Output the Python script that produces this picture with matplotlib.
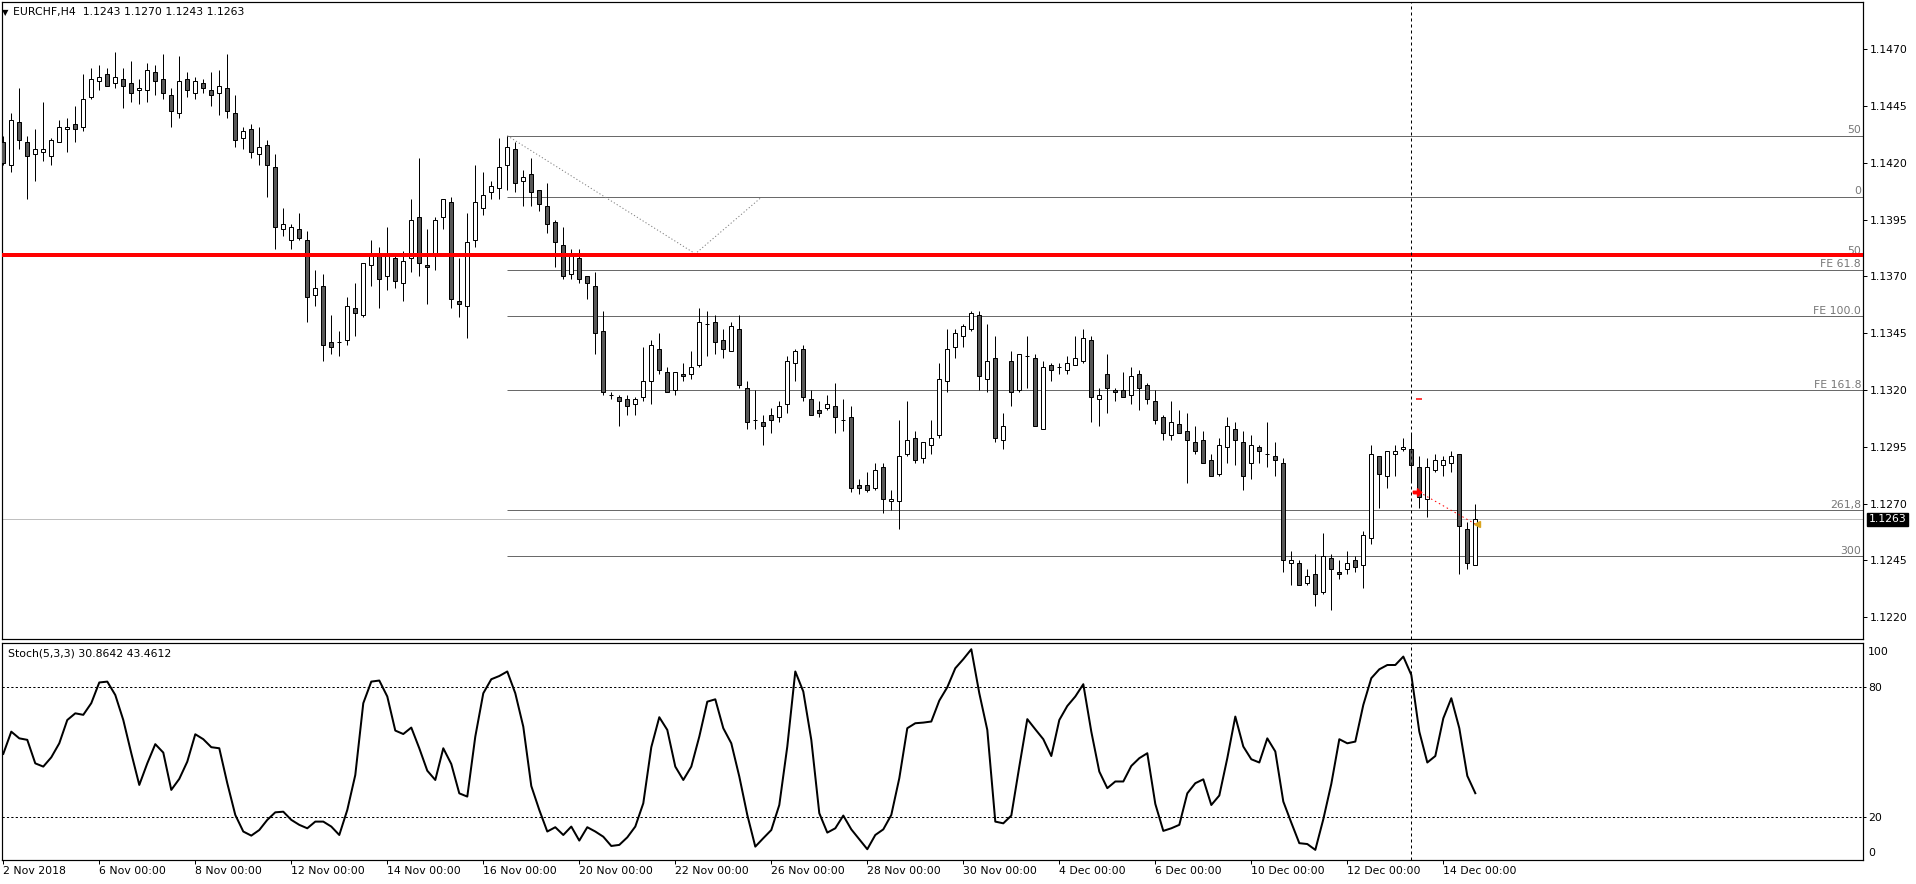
import matplotlib
matplotlib.use("Agg")
import matplotlib.pyplot as plt
import numpy as np
from matplotlib.path import Path
from matplotlib.transforms import blended_transform_factory

W, H = 1916, 884

symbol = "EURCHF,H4"
tick_labels = ["2 Nov 2018", "6 Nov 00:00", "8 Nov 00:00", "12 Nov 00:00", "14 Nov 00:00",
               "16 Nov 00:00", "20 Nov 00:00", "22 Nov 00:00", "26 Nov 00:00", "28 Nov 00:00",
               "30 Nov 00:00", "4 Dec 00:00", "6 Dec 00:00", "10 Dec 00:00", "12 Dec 00:00",
               "14 Dec 00:00"]
bars_per_label = 12

# H4 candles, 2 Nov 00:00 .. 14 Dec 16:00
opens = [
    1.1429, 1.1419, 1.1438, 1.1429, 1.1424, 1.1425, 1.1423, 1.1429, 1.1435, 1.1437,
    1.1436, 1.1449, 1.1456, 1.1459, 1.1455, 1.1457, 1.1455, 1.1452, 1.1452, 1.1460,
    1.1457, 1.1450, 1.1442, 1.1457, 1.1451, 1.1455, 1.1452, 1.1451, 1.1453, 1.1442,
    1.1431, 1.1435, 1.1424, 1.1428, 1.1418, 1.1391, 1.1386, 1.1391, 1.1386, 1.1362,
    1.1366, 1.1341, 1.1341, 1.1342, 1.1356, 1.1353, 1.1375, 1.1379, 1.1370, 1.1378,
    1.1367, 1.1378, 1.1396, 1.1375, 1.1379, 1.1396, 1.1403, 1.1359, 1.1357, 1.1386,
    1.1400, 1.1407, 1.1409, 1.1419, 1.1426, 1.1412, 1.1415, 1.1408, 1.1401, 1.1394,
    1.1384, 1.1371, 1.1378, 1.1370, 1.1366, 1.1346, 1.1318, 1.1317, 1.1316, 1.1314,
    1.1317, 1.1324, 1.1338, 1.1328, 1.1320, 1.1327, 1.1327, 1.1331, 1.1349, 1.1350,
    1.1342, 1.1337, 1.1347, 1.1321, 1.1307, 1.1306, 1.1309, 1.1308, 1.1314, 1.1332,
    1.1338, 1.1316, 1.1311, 1.1312, 1.1313, 1.1307, 1.1308, 1.1278, 1.1278, 1.1277,
    1.1286, 1.1271, 1.1271, 1.1292, 1.1299, 1.1290, 1.1296, 1.1300, 1.1324, 1.1339,
    1.1344, 1.1347, 1.1353, 1.1325, 1.1334, 1.1298, 1.1333, 1.1320, 1.1335, 1.1334,
    1.1303, 1.1331, 1.1330, 1.1329, 1.1331, 1.1333, 1.1342, 1.1316, 1.1327, 1.1320,
    1.1320, 1.1318, 1.1327, 1.1322, 1.1315, 1.1308, 1.1300, 1.1305, 1.1302, 1.1297,
    1.1298, 1.1289, 1.1283, 1.1295, 1.1303, 1.1297, 1.1288, 1.1295, 1.1292, 1.1291,
    1.1288, 1.1244, 1.1244, 1.1235, 1.1239, 1.1231, 1.1246, 1.1240, 1.1241, 1.1245,
    1.1243, 1.1255, 1.1291, 1.1282, 1.1292, 1.1294, 1.1294, 1.1286, 1.1272, 1.1285,
    1.1287, 1.1288, 1.1292, 1.1259, 1.1243,
]
highs = [
    1.1432, 1.1442, 1.1453, 1.1432, 1.1435, 1.1447, 1.1431, 1.1439, 1.1440, 1.1445,
    1.1459, 1.1462, 1.1463, 1.1462, 1.1469, 1.1462, 1.1465, 1.1457, 1.1464, 1.1463,
    1.1468, 1.1453, 1.1467, 1.1460, 1.1458, 1.1457, 1.1460, 1.1461, 1.1468, 1.1450,
    1.1436, 1.1437, 1.1436, 1.1430, 1.1424, 1.1400, 1.1393, 1.1398, 1.1390, 1.1373,
    1.1371, 1.1353, 1.1346, 1.1361, 1.1367, 1.1376, 1.1386, 1.1383, 1.1392, 1.1380,
    1.1381, 1.1404, 1.1422, 1.1391, 1.1396, 1.1404, 1.1405, 1.1378, 1.1398, 1.1419,
    1.1416, 1.1412, 1.1431, 1.1432, 1.1429, 1.1417, 1.1422, 1.1408, 1.1411, 1.1395,
    1.1392, 1.1382, 1.1382, 1.1370, 1.1372, 1.1355, 1.1319, 1.1318, 1.1318, 1.1317,
    1.1339, 1.1342, 1.1345, 1.1330, 1.1328, 1.1332, 1.1337, 1.1356, 1.1355, 1.1353,
    1.1347, 1.1350, 1.1353, 1.1324, 1.1320, 1.1309, 1.1312, 1.1315, 1.1335, 1.1338,
    1.1340, 1.1320, 1.1315, 1.1318, 1.1323, 1.1316, 1.1313, 1.1281, 1.1284, 1.1288,
    1.1288, 1.1276, 1.1307, 1.1315, 1.1302, 1.1297, 1.1307, 1.1332, 1.1347, 1.1347,
    1.1349, 1.1355, 1.1355, 1.1349, 1.1344, 1.1310, 1.1337, 1.1336, 1.1344, 1.1336,
    1.1333, 1.1332, 1.1332, 1.1335, 1.1344, 1.1347, 1.1344, 1.1321, 1.1336, 1.1321,
    1.1328, 1.1330, 1.1329, 1.1323, 1.1320, 1.1309, 1.1315, 1.1311, 1.1310, 1.1304,
    1.1302, 1.1292, 1.1299, 1.1308, 1.1306, 1.1302, 1.1300, 1.1296, 1.1306, 1.1297,
    1.1290, 1.1249, 1.1245, 1.1241, 1.1248, 1.1257, 1.1248, 1.1245, 1.1249, 1.1247,
    1.1258, 1.1296, 1.1291, 1.1293, 1.1296, 1.1299, 1.1301, 1.1291, 1.1290, 1.1292,
    1.1291, 1.1293, 1.1292, 1.1262, 1.1270,
]
lows = [
    1.1419, 1.1416, 1.1426, 1.1404, 1.1412, 1.1421, 1.1419, 1.1429, 1.1425, 1.1429,
    1.1434, 1.1448, 1.1452, 1.1454, 1.1453, 1.1444, 1.1447, 1.1446, 1.1447, 1.1450,
    1.1448, 1.1436, 1.1440, 1.1449, 1.1448, 1.1451, 1.1445, 1.1441, 1.1440, 1.1427,
    1.1426, 1.1422, 1.1419, 1.1405, 1.1382, 1.1388, 1.1382, 1.1386, 1.1350, 1.1357,
    1.1333, 1.1336, 1.1335, 1.1340, 1.1344, 1.1352, 1.1366, 1.1356, 1.1364, 1.1365,
    1.1359, 1.1372, 1.1370, 1.1358, 1.1373, 1.1391, 1.1356, 1.1352, 1.1343, 1.1383,
    1.1397, 1.1404, 1.1404, 1.1408, 1.1407, 1.1401, 1.1401, 1.1399, 1.1389, 1.1374,
    1.1369, 1.1369, 1.1367, 1.1360, 1.1336, 1.1318, 1.1316, 1.1304, 1.1309, 1.1309,
    1.1315, 1.1314, 1.1327, 1.1319, 1.1318, 1.1324, 1.1325, 1.1330, 1.1335, 1.1336,
    1.1334, 1.1337, 1.1321, 1.1303, 1.1303, 1.1296, 1.1301, 1.1306, 1.1310, 1.1324,
    1.1315, 1.1309, 1.1308, 1.1311, 1.1301, 1.1302, 1.1275, 1.1274, 1.1275, 1.1276,
    1.1266, 1.1267, 1.1259, 1.1291, 1.1288, 1.1288, 1.1292, 1.1299, 1.1319, 1.1334,
    1.1339, 1.1346, 1.1320, 1.1319, 1.1297, 1.1294, 1.1313, 1.1319, 1.1321, 1.1304,
    1.1303, 1.1324, 1.1327, 1.1327, 1.1331, 1.1332, 1.1306, 1.1304, 1.1310, 1.1315,
    1.1317, 1.1314, 1.1311, 1.1314, 1.1305, 1.1298, 1.1298, 1.1301, 1.1279, 1.1292,
    1.1288, 1.1282, 1.1282, 1.1288, 1.1287, 1.1276, 1.1281, 1.1288, 1.1286, 1.1282,
    1.1240, 1.1234, 1.1234, 1.1234, 1.1225, 1.1230, 1.1223, 1.1237, 1.1239, 1.1240,
    1.1233, 1.1252, 1.1268, 1.1277, 1.1282, 1.1293, 1.1280, 1.1268, 1.1264, 1.1284,
    1.1282, 1.1284, 1.1239, 1.1241, 1.1243,
]
closes = [
    1.1420, 1.1439, 1.1430, 1.1423, 1.1426, 1.1426, 1.1430, 1.1436, 1.1436, 1.1435,
    1.1448, 1.1457, 1.1458, 1.1454, 1.1458, 1.1454, 1.1451, 1.1453, 1.1461, 1.1456,
    1.1451, 1.1443, 1.1456, 1.1452, 1.1456, 1.1453, 1.1450, 1.1454, 1.1443, 1.1430,
    1.1434, 1.1425, 1.1427, 1.1419, 1.1392, 1.1393, 1.1392, 1.1387, 1.1361, 1.1365,
    1.1340, 1.1339, 1.1341, 1.1357, 1.1354, 1.1376, 1.1380, 1.1369, 1.1379, 1.1368,
    1.1377, 1.1395, 1.1376, 1.1374, 1.1395, 1.1404, 1.1360, 1.1358, 1.1385, 1.1403,
    1.1406, 1.1410, 1.1418, 1.1427, 1.1411, 1.1414, 1.1407, 1.1402, 1.1393, 1.1385,
    1.1370, 1.1379, 1.1369, 1.1367, 1.1345, 1.1319, 1.1318, 1.1315, 1.1313, 1.1316,
    1.1324, 1.1340, 1.1329, 1.1319, 1.1328, 1.1326, 1.1330, 1.1350, 1.1349, 1.1341,
    1.1338, 1.1348, 1.1322, 1.1306, 1.1307, 1.1304, 1.1307, 1.1313, 1.1333, 1.1337,
    1.1317, 1.1309, 1.1310, 1.1314, 1.1308, 1.1307, 1.1277, 1.1277, 1.1276, 1.1285,
    1.1272, 1.1272, 1.1291, 1.1298, 1.1289, 1.1297, 1.1299, 1.1325, 1.1338, 1.1345,
    1.1348, 1.1354, 1.1326, 1.1333, 1.1299, 1.1304, 1.1319, 1.1336, 1.1335, 1.1304,
    1.1330, 1.1329, 1.1330, 1.1332, 1.1334, 1.1343, 1.1317, 1.1318, 1.1321, 1.1319,
    1.1317, 1.1326, 1.1321, 1.1316, 1.1307, 1.1301, 1.1306, 1.1301, 1.1298, 1.1293,
    1.1288, 1.1282, 1.1296, 1.1304, 1.1298, 1.1282, 1.1296, 1.1293, 1.1292, 1.1289,
    1.1245, 1.1245, 1.1234, 1.1238, 1.1230, 1.1247, 1.1241, 1.1239, 1.1244, 1.1242,
    1.1256, 1.1292, 1.1283, 1.1293, 1.1293, 1.1295, 1.1287, 1.1273, 1.1286, 1.1289,
    1.1289, 1.1291, 1.1260, 1.1244, 1.1263,
]

# Stochastic(5,3,3) main line
stoch_k = [
    49.1, 59.4, 56.3, 55.6, 44.7, 43.2, 47.5, 54.0, 64.8, 67.9,
    67.2, 72.6, 82.2, 82.6, 76.4, 64.8, 49.4, 34.7, 44.7, 53.6,
    49.7, 32.4, 37.5, 45.5, 58.2, 55.9, 52.2, 51.7, 35.5, 20.8,
    13.1, 11.2, 13.8, 18.5, 22.0, 22.3, 18.5, 16.2, 14.6, 17.7,
    17.7, 15.4, 11.5, 23.1, 39.3, 72.6, 82.6, 83.1, 75.7, 59.9,
    58.3, 61.3, 51.7, 41.3, 37.0, 51.7, 44.4, 30.8, 29.3, 57.1,
    77.2, 83.7, 85.2, 87.3, 77.2, 61.7, 34.2, 23.1, 13.1, 15.1,
    11.5, 15.4, 8.9, 15.1, 13.1, 10.7, 6.4, 6.9, 10.4, 15.4,
    26.2, 52.2, 66.1, 60.2, 43.2, 37.0, 43.2, 57.1, 73.3, 74.4,
    61.0, 54.0, 38.6, 20.8, 6.1, 10.0, 13.8, 25.4, 52.5, 87.3,
    78.0, 55.6, 21.6, 12.6, 14.6, 20.5, 14.1, 9.5, 4.9, 11.5,
    14.1, 20.8, 37.8, 61.0, 63.3, 63.6, 64.1, 73.8, 80.0, 88.8,
    93.0, 97.6, 77.2, 60.2, 17.7, 16.9, 20.5, 43.2, 65.2, 60.5,
    55.9, 48.1, 64.8, 71.3, 75.7, 81.4, 59.4, 40.9, 33.2, 36.3,
    36.3, 43.5, 47.1, 49.4, 25.9, 13.4, 14.6, 16.2, 30.8, 35.5,
    37.3, 25.4, 29.8, 47.1, 66.4, 52.5, 46.6, 45.1, 56.3, 50.2,
    27.0, 17.2, 7.7, 7.3, 4.6, 18.8, 35.2, 55.9, 54.0, 54.8,
    71.8, 84.2, 88.3, 90.3, 90.3, 94.2, 85.7, 59.4, 45.1, 48.1,
    65.6, 74.9, 61.0, 38.9, 30.8642,
]
stoch_signal_last = 43.4612
stoch_levels = [20, 80]

# horizontal line objects
support_level = 1.13795
fib_start_bar = 63
fib_levels = [1.1432, 1.1405, 1.1379, 1.1373, 1.13525, 1.1320, 1.12671, 1.12468]
fib_labels = ["50", "0", "50", "FE 61.8", "FE 100.0", "FE 161.8", "261,8", "300"]
fe_bars = [63, 86.5, 94.8]
fe_prices = [1.1432, 1.1380, 1.1405]

# vertical line and trade marks
vline_bar = 176
entry_bar, entry_price = 177, 1.1275
exit_bar, exit_price = 184, 1.1261
target_price = 1.1316

BEAR = "#575757"
GREY = "#6a6a6a"
FS = 7.8


def pxl(v):
    # pixels -> points at dpi 100
    return v * 0.72


def main():
    plt.rcParams["font.family"] = ["DejaVu Sans"]
    fig = plt.figure(figsize=(W / 100, H / 100), dpi=100)
    fig.patch.set_facecolor("white")

    x_lo, x_hi = -0.16, 232.46
    ax = fig.add_axes([2 / W, 1 - 639 / H, 1861 / W, 637 / H])
    ax2 = fig.add_axes([2 / W, 1 - 860 / H, 1861 / W, 217 / H])

    o = np.array(opens)
    h = np.array(highs)
    l = np.array(lows)
    c = np.array(closes)
    x = np.arange(len(o))
    up = c >= o

    # candles
    ax.vlines(x, l, h, color="black", lw=pxl(1), zorder=3)
    ax.bar(x, np.abs(c - o), bottom=np.minimum(o, c), width=0.5,
           color=np.where(up, "white", BEAR), edgecolor="black", lw=pxl(1), zorder=4)

    # fibo levels
    ax.hlines(fib_levels, fib_start_bar, x_hi, color=GREY, lw=pxl(1), zorder=2)
    tr = blended_transform_factory(ax.transAxes, ax.transData)
    for lev, lab in zip(fib_levels, fib_labels):
        ax.annotate(lab, xy=(1, lev), xycoords=tr, xytext=(-2, 0.5), textcoords="offset pixels",
                    ha="right", va="bottom", fontsize=FS, color="#767676")
    ax.plot(fe_bars, fe_prices, color="#808080", lw=pxl(1), dashes=(1.2, 2.2), zorder=2)

    ax.axhline(support_level, color="#ff0000", lw=pxl(4), zorder=5)
    ax.axhline(closes[-1], color="#c0c0c0", lw=pxl(1), zorder=1)

    # trade marks
    ax.plot([entry_bar, exit_bar], [entry_price, exit_price], color="#ff0000", lw=pxl(1),
            dashes=(1.5, 3), zorder=6)
    arrow = Path([(-1, -0.3), (0, -0.3), (0, -0.9), (1, 0), (0, 0.9), (0, 0.3), (-1, 0.3), (-1, -0.3)])
    ax.plot([entry_bar - 0.3], [entry_price], marker=arrow, color="#ff0000", ms=6, zorder=7)
    ax.plot([exit_bar + 0.2], [exit_price], marker="<", color="#daa520", ms=5, zorder=7)
    ax.plot([entry_bar], [target_price], marker="_", color="#ff0000", ms=5, mew=pxl(1.5), zorder=7)

    for a in (ax, ax2):
        a.axvline(vline_bar, color="black", lw=pxl(1), dashes=(3, 3), zorder=6)
        a.set_xlim(x_lo, x_hi)
        a.set_facecolor("white")
        for s in a.spines.values():
            s.set_linewidth(pxl(1.2))
            s.set_color("black")

    ax.set_ylim(1.121036, 1.149087)
    ax.yaxis.tick_right()
    yt = np.arange(1.1220, 1.14701, 0.0025)
    ax.set_yticks(yt)
    ax.set_yticklabels([f"{v:.4f}" for v in yt])
    ax.tick_params(axis="y", direction="out", length=3, width=pxl(1), pad=2, labelsize=FS)
    ax.set_xticks([])

    # last price box
    ax.annotate(f"{closes[-1]:.4f}", xy=(1, closes[-1]), xycoords=tr, xytext=(6, 0),
                textcoords="offset pixels", ha="left", va="center", fontsize=FS, color="white",
                bbox=dict(boxstyle="square,pad=0.15", fc="black", ec="black"), zorder=10,
                annotation_clip=False)

    fig.text(2 / W, 1 - 12.5 / H, "\u25bc", fontsize=6, va="center", ha="left")
    fig.text(13 / W, 1 - 12.5 / H,
             f"{symbol}  {opens[-1]:.4f} {highs[-1]:.4f} {lows[-1]:.4f} {closes[-1]:.4f}",
             fontsize=FS, va="center", ha="left")

    # stochastic panel
    ax2.plot(x, stoch_k, color="black", lw=pxl(2), zorder=4)
    for lev in stoch_levels:
        ax2.axhline(lev, color="black", lw=pxl(1), dashes=(2.2, 2.2), zorder=2)
    ax2.set_ylim(-0.1, 100.5)
    ax2.yaxis.tick_right()
    ax2.set_yticks(stoch_levels)
    ax2.set_yticklabels([str(v) for v in stoch_levels])
    ax2.tick_params(axis="y", direction="out", length=2, width=pxl(1), pad=2, labelsize=FS)
    tr2 = blended_transform_factory(ax2.transAxes, ax2.transData)
    ax2.annotate("100", xy=(1, 100), xycoords=tr2, xytext=(5, -7.5), textcoords="offset pixels",
                 ha="left", va="center", fontsize=FS, annotation_clip=False)
    ax2.annotate("0", xy=(1, 0), xycoords=tr2, xytext=(5, 7), textcoords="offset pixels",
                 ha="left", va="center", fontsize=FS, annotation_clip=False)
    ax2.text(6 / 1861, 1 - 11 / 217, f"Stoch(5,3,3) {stoch_k[-1]:.4f} {stoch_signal_last:.4f}",
             transform=ax2.transAxes, fontsize=FS, va="center", ha="left")

    ax2.set_xticks(np.arange(len(tick_labels)) * bars_per_label)
    ax2.set_xticklabels(tick_labels)
    for lab in ax2.get_xticklabels():
        lab.set_ha("left")
    ax2.tick_params(axis="x", direction="out", length=3, width=pxl(1), pad=1.5, labelsize=FS)

    fig.savefig("out.png", dpi=100, facecolor="white")
    plt.close(fig)


if __name__ == "__main__":
    main()
